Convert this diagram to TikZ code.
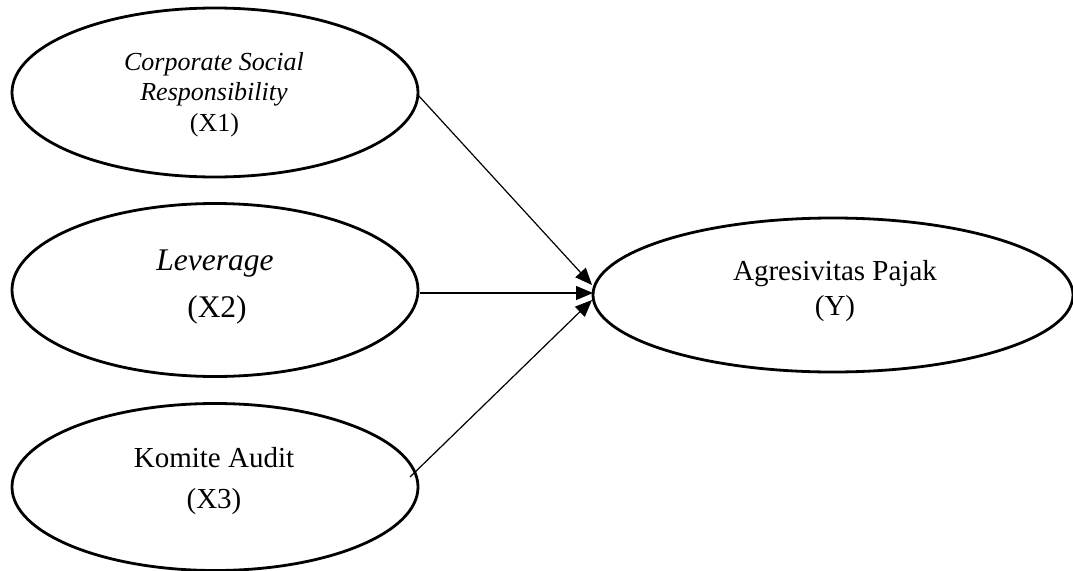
\documentclass[tikz,border=0pt]{standalone}
\usepackage{fontspec}
\setmainfont{Liberation Serif}
\usetikzlibrary{shapes.geometric,arrows.meta}
\tikzset{
  var/.style={draw, ellipse, line width=2.8pt, inner sep=0pt, minimum width=406pt, minimum height=169pt},
  lbl/.style={anchor=base, inner sep=0pt},
  path/.style={line width=1.2pt, -{Triangle[length=17pt,width=14pt]}}
}
\begin{document}
\begin{tikzpicture}[x=1pt,y=-1pt]
\useasboundingbox (0,0) rectangle (1073,570);
\node[var] (x1) at (215,92.5) {};
\node[var, minimum height=173pt] (x2) at (215,290) {};
\node[var, minimum height=167pt] (x3) at (215,487) {};
\node[var, minimum width=480pt, minimum height=154pt] (y) at (833,295) {};
% labels
\node[lbl, font=\fontsize{26}{30}\selectfont\itshape] (t1a) at (214,70) {Corporate Social};
\node[lbl, font=\fontsize{26}{30}\selectfont\itshape] (t1b) at (214,100) {Responsibility};
\node[lbl, font=\fontsize{26}{30}\selectfont] (t1c) at (214.5,131.5) {(X1)};
\node[lbl, font=\fontsize{31.5}{36}\selectfont\itshape] (t2a) at (215,270) {Leverage};
\node[lbl, font=\fontsize{31.5}{36}\selectfont] (t2b) at (217,317) {(X2)};
\node[lbl, font=\fontsize{29}{34}\selectfont] (t3a) at (214,467) {Komite Audit};
\node[lbl, font=\fontsize{29}{34}\selectfont] (t3b) at (214,508) {(X3)};
\node[lbl, font=\fontsize{29}{34}\selectfont] (tya) at (835,280) {Agresivitas Pajak};
\node[lbl, font=\fontsize{29}{34}\selectfont] (tyb) at (835,315) {(Y)};
% connector ends
\coordinate (s1) at (418,95);
\coordinate (s2) at (420,293);
\coordinate (s3) at (410,477);
\coordinate (e1) at (592,285);
\coordinate (e2) at (593,293);
\coordinate (e3) at (592,300);
\draw[path] (s1) -- (e1);
\draw[path] (s2) -- (e2);
\draw[path] (s3) -- (e3);
\end{tikzpicture}
\end{document}
